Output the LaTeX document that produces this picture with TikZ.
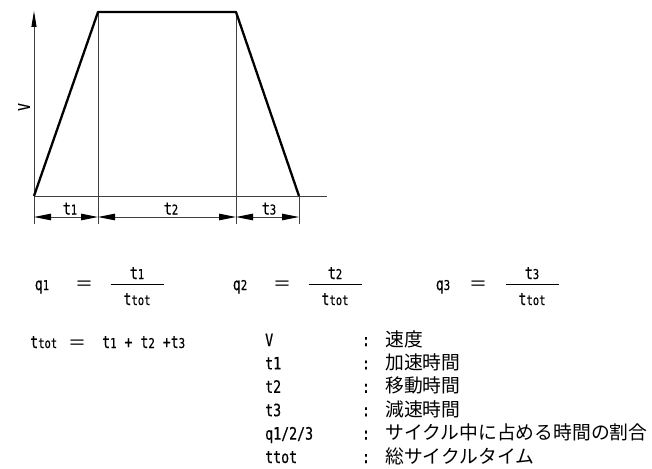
\documentclass[tikz,border=0pt]{standalone}
\usepackage{fontspec}
\setmainfont{DejaVu Sans Mono}[FakeStretch=0.78, FakeBold=0.6]
\newfontfamily\jp{Noto Sans CJK JP}
\usetikzlibrary{arrows.meta}
\newcommand{\lo}[1]{{\fontsize{13.5pt}{14pt}\selectfont #1}}
\begin{document}
\begin{tikzpicture}[x=1pt, y=-1pt,
    profile/.style={line width=2.3pt, line join=round},
    thinline/.style={line width=0.9pt, black!75},
    dimline/.style={thinline, {Triangle[length=17pt,width=6.5pt,black]}-{Triangle[length=17pt,width=6.5pt,black]}},
    sym/.style={inner sep=0pt, anchor=base, font=\fontsize{17pt}{18pt}\selectfont},
    eqsign/.style={inner sep=0pt, font=\jp\fontsize{18pt}{18pt}\selectfont},
    desc/.style={inner sep=0pt, anchor=base west, font=\jp\fontsize{18.8pt}{20pt}\selectfont}]
  \useasboundingbox (0,0) rectangle (652,468);

  % speed profile
  \coordinate (O) at (34,196);
  \coordinate (A) at (98,12);
  \coordinate (B) at (236,12);
  \coordinate (C) at (299,196);
  \coordinate (X) at (327,196);
  \coordinate (Y) at (34,11);
  \coordinate (D) at (0,217);
  \coordinate (F) at (0,224);

  \draw[thinline, -{Triangle[length=16pt,width=5pt,black]}] (O |- F) -- (Y);
  \draw[thinline] (O) -- (X);
  \draw[thinline] (A) -- (A |- F);
  \draw[thinline] (B) -- (B |- F);
  \draw[thinline] (C) -- (C |- F);
  \draw[profile] (O) -- (A) -- (B) -- (C);

  \draw[dimline] (O |- D) -- (A |- D);
  \draw[dimline] (A |- D) -- (B |- D);
  \draw[dimline] (B |- D) -- (C |- D);

  \node[sym] (lt1) at (70,214.5) {t\lo{1}};
  \node[sym] (lt2) at (171,214.5) {t\lo{2}};
  \node[sym] (lt3) at (269,214.5) {t\lo{3}};
  \node[inner sep=0pt, rotate=90, font=\fontsize{16pt}{16pt}\selectfont] (lv) at (24,107) {V};

  % ratios
  \foreach \i/\xq/\xe/\xf in {1/42/84/137, 2/240/282/335, 3/443/478/532} {
    \node[sym] (q\i) at (\xq,290) {q\lo{\i}};
    \node[eqsign] (e\i) at (\xe,286) {＝};
    \node[sym] (n\i) at (\xf,279) {t\lo{\i}};
    \node[sym] (d\i) at (\xf,305) {t\lo{tot}};
    \coordinate (bl\i) at (\xf-26.5,284);
    \coordinate (br\i) at (\xf+26.5,284);
    \draw[line width=0.9pt] (bl\i) -- (br\i);
  }

  % total time
  \node[sym, anchor=base west] (tt) at (30,348) {t\lo{tot}};
  \node[eqsign] (et) at (77,345) {＝};
  \node[sym, anchor=base west] (ts) at (102,348) {t\lo{1} + t\lo{2} +t\lo{3}};

  % legend
  \foreach \s/\d [count=\k from 0] in {V/速度, t1/加速時間, t2/移動時間, t3/減速時間,
      q1\slash 2\slash 3/サイクル中に占める時間の割合, ttot/総サイクルタイム} {
    \node[sym, anchor=base west] (s\k) at (265,346+23.4*\k) {\s};
    \node[sym] (c\k) at (366,346+23.4*\k) {:};
    \node[desc] (m\k) at (385,346+23.4*\k) {\d};
  }
\end{tikzpicture}
\end{document}
